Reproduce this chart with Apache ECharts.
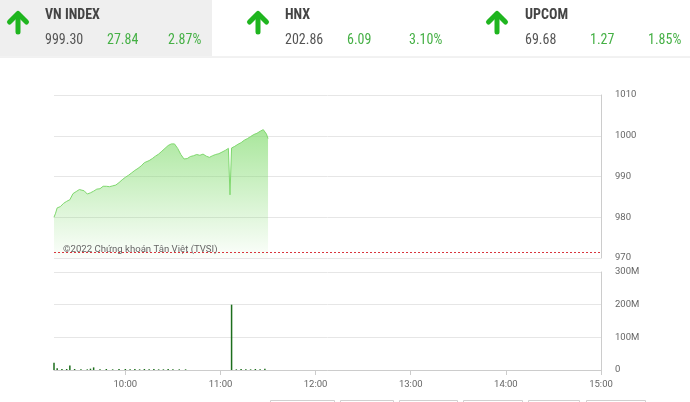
<!DOCTYPE html>
<html>
<head>
<meta charset="utf-8">
<script src="https://cdn.jsdelivr.net/npm/echarts@6/dist/echarts.min.js"></script>
<style>
html,body{margin:0;padding:0;background:#fff;}
#c{width:690px;height:402px;}
</style>
</head>
<body>
<div id="c"></div>
<script>
// ---- Header data ----
var indexNames = ['VN INDEX', 'HNX', 'UPCOM'];
var indexValues = ['999.30', '202.86', '69.68'];
var indexChanges = ['27.84', '6.09', '1.27'];
var indexPercents = ['2.87%', '3.10%', '1.85%'];

// ---- Price series (minutes since midnight, index value) ----
var priceTimes = [555,556,557,559,561,563,565,567,569,571,572,574,576,578,580,582,584,586,588,590,592,594,596,598,600,602,604,606,608,610,612,613,615,617,619,621,623,625,627,629,630,631,633,635,637,639,641,643,645,647,649,651,653,655,657,659,661,663,665,666,667,669,671,673,675,677,679,681,683,685,687,688,689,690];
var priceValues = [980.0,981.0,982.3,982.6,983.4,983.9,984.3,985.8,986.3,986.8,987.2,986.5,985.7,986.0,986.4,986.9,987.0,987.6,987.6,987.5,987.7,987.9,988.5,989.2,989.8,990.3,990.9,991.5,992.0,992.6,993.4,993.2,993.9,994.4,995.0,995.5,996.2,996.9,997.6,998.0,998.4,998.0,996.9,995.4,994.3,994.4,994.9,995.1,995.4,995.2,995.5,995.0,994.7,995.1,995.4,995.6,996.0,996.4,996.9,985.5,997.0,997.4,997.9,998.3,998.9,999.3,999.8,1000.3,1000.6,1001.1,1001.5,1001.2,1000.4,999.3];
var referenceValue = 971.46;

// ---- Volume series ----
var volumeTimes = [555,557,560,563,565,568,572,576,578,580,584,588,592,596,600,603,606,609,612,615,618,621,624,627,630,634,638,667,670,673,676,679,682,685,688];
var volumeValues = [22e6,5e6,3e6,3e6,14e6,3e6,2e6,2e6,4e6,8e6,2e6,3e6,2e6,3e6,3e6,2e6,3e6,2e6,3e6,2e6,3e6,2e6,2e6,3e6,2e6,2e6,2e6,200e6,2e6,3e6,2e6,2e6,3e6,2e6,4e6];

// ---- Axis ticks ----
var xTickValues = [600,660,720,780,840,900];
var xTickLabels = ['10:00','11:00','12:00','13:00','14:00','15:00'];
var copyrightText = '©2022 Chứng khoán Tân Việt (TVSI)';

var priceData = priceTimes.map(function(t,i){return [t, priceValues[i]];});
var volumeData = volumeTimes.map(function(t,i){return [t, volumeValues[i]];});

var chart = echarts.init(document.getElementById('c'), null, {renderer:'canvas'});

var headerFont = "'Roboto Condensed','Liberation Sans Narrow','DejaVu Sans Condensed',Roboto,sans-serif";
var titleX = [45, 285, 525];
var arrowX = [18, 258, 497];
var changeX = [107, 347, 590];
var pctX = [168, 409, 648];

var graphics = [
  {type:'rect', shape:{x:0,y:0,width:212,height:56}, style:{fill:'#efefef'}, z:0},
  {type:'line', shape:{x1:0,y1:57,x2:690,y2:57}, style:{stroke:'#e4e4e4',lineWidth:1}},
  {type:'text', left:63, top:245, style:{text:copyrightText, fill:'#666', font:'9.6px Roboto, sans-serif'}, z:10}
];
for (var i=0;i<3;i++){
  var ax = arrowX[i];
  graphics.push({type:'polyline', shape:{points:[[ax-8.5,22],[ax,13.5],[ax+8.5,22]]}, style:{stroke:'#1fb51f',lineWidth:5,lineCap:'round',lineJoin:'round',fill:null}});
  graphics.push({type:'line', shape:{x1:ax,y1:15,x2:ax,y2:32}, style:{stroke:'#1fb51f',lineWidth:5,lineCap:'round'}});
  graphics.push({type:'text', left:titleX[i], top:8, style:{text:indexNames[i], fill:'#444', font:'bold 14px '+headerFont}});
  graphics.push({type:'text', left:titleX[i], top:33, style:{text:indexValues[i], fill:'#555', font:'14px '+headerFont}});
  graphics.push({type:'text', left:changeX[i], top:33, style:{text:indexChanges[i], fill:'#45b045', font:'14px '+headerFont}});
  graphics.push({type:'text', left:pctX[i], top:33, style:{text:indexPercents[i], fill:'#45b045', font:'14px '+headerFont}});
}
var btns = [[270,334],[340,393],[399,457],[463,522],[528,579],[586,645]];
btns.forEach(function(b){
  graphics.push({type:'rect', shape:{x:b[0]+0.5,y:400.5,width:b[1]-b[0],height:12}, style:{fill:'#fff',stroke:'#d0d0d0',lineWidth:1}});
});

var axisLabelStyle = {color:'#666', fontSize:9.5, fontFamily:'Roboto, sans-serif', padding:[2,0,0,0]};

chart.setOption({
  animation:false,
  backgroundColor:'#fff',
  grid:[
    {left:54, right:89, top:95, height:163},
    {left:54, right:89, top:272, height:98}
  ],
  xAxis:[
    {type:'value', gridIndex:0, min:555, max:900, axisLine:{show:false}, axisTick:{show:false}, axisLabel:{show:false}, splitLine:{show:false}},
    {type:'value', gridIndex:1, min:555, max:900,
     axisLine:{show:true, lineStyle:{color:'#ccc'}},
     axisTick:{show:true, customValues:xTickValues, length:5, lineStyle:{color:'#ccc'}},
     axisLabel:{show:true, customValues:xTickValues, margin:10, color:'#666', fontSize:9.5, fontFamily:'Roboto, sans-serif',
       formatter:function(v){var k=xTickValues.indexOf(v); return k>=0?xTickLabels[k]:'';}},
     splitLine:{show:false}}
  ],
  yAxis:[
    {type:'value', gridIndex:0, position:'right', min:970, max:1010, interval:10,
     axisLine:{show:true, lineStyle:{color:'#ccc'}}, axisTick:{show:false},
     axisLabel:Object.assign({margin:14, formatter:function(v){return String(v);}}, axisLabelStyle),
     splitLine:{show:true, lineStyle:{color:'#e6e6e6'}}},
    {type:'value', gridIndex:1, position:'right', min:0, max:300e6, interval:100e6,
     axisLine:{show:true, lineStyle:{color:'#ccc'}}, axisTick:{show:false},
     axisLabel:Object.assign({margin:14, formatter:function(v){return v===0?'0':(v/1e6)+'M';}}, axisLabelStyle),
     splitLine:{show:true, lineStyle:{color:'#e6e6e6'}}}
  ],
  series:[
    {type:'line', xAxisIndex:0, yAxisIndex:0, data:priceData, showSymbol:false, symbol:'none',
     lineStyle:{color:'#7fd86e', width:1},
     areaStyle:{origin:'start', color:new echarts.graphic.LinearGradient(0,0,0,1,[
       {offset:0, color:'rgba(125,218,105,0.95)'},
       {offset:1, color:'rgba(125,218,105,0.03)'}])},
     markLine:{silent:true, symbol:'none', label:{show:false},
       lineStyle:{color:'#d9363e', type:[2,2], width:1},
       data:[{yAxis:referenceValue}]},
     z:3},
    {type:'bar', xAxisIndex:1, yAxisIndex:1, data:volumeData, barWidth:1.5,
     itemStyle:{color:'#1d6e1d'}}
  ],
  graphic:graphics
});
</script>
</body>
</html>
